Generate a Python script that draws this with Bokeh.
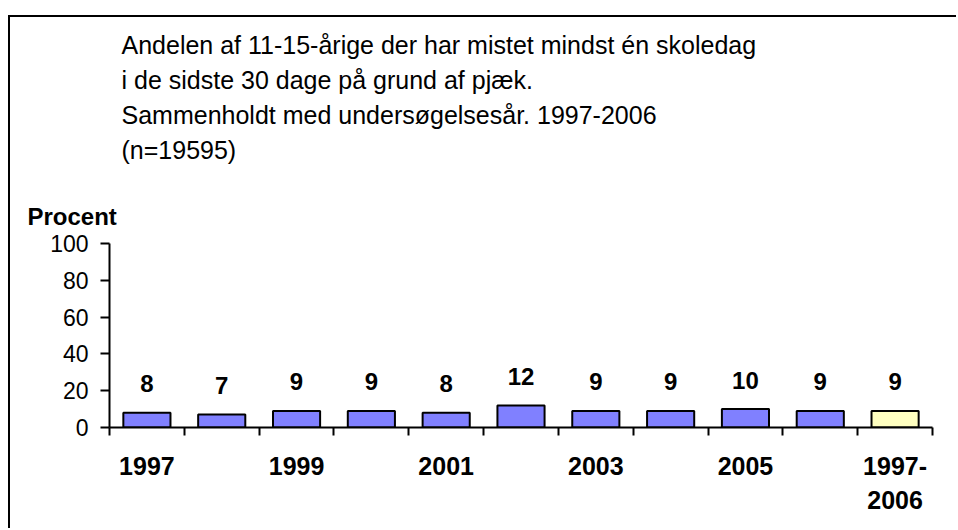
from bokeh.plotting import figure
from bokeh.models import Range1d, FixedTicker, Title, ColumnDataSource
from bokeh.core.properties import value
from bokeh.embed import file_html
from bokeh.resources import INLINE

categories = ["1997", "1998", "1999", "2000", "2001", "2002", "2003", "2004", "2005", "2006", "1997-\n2006"]
values = [8, 7, 9, 9, 8, 12, 9, 9, 10, 9, 9]
colors = ["#8080FF"] * 10 + ["#FFFFC0"]
shown_labels = {0: "1997", 2: "1999", 4: "2001", 6: "2003", 8: "2005", 10: "1997-\n2006"}
y_ticks = [0, 20, 40, 60, 80, 100]
title_lines = [
    "Andelen af 11-15-årige der har mistet mindst én skoledag",
    "i de sidste 30 dage på grund af pjæk.",
    "Sammenholdt med undersøgelsesår. 1997-2006",
    "(n=19595)",
]
y_title = "Procent"

FONT = "Liberation Sans"
W, H = 948, 513
ML, MR, MT, MB = 99, 26, 226, 103
NX = len(categories)

p = figure(width=W, height=H, output_backend="svg", toolbar_location=None,
           x_range=Range1d(0, NX), y_range=Range1d(0, 100),
           min_border_left=ML, min_border_right=MR, min_border_top=MT, min_border_bottom=MB)
p.styles = {"transform": "translate(8px, 15px)",
            "border-left": "2px solid black", "border-top": "2px solid black"}
p.outline_line_color = None
p.xgrid.grid_line_color = None
p.ygrid.grid_line_color = None

xs = [i + 0.5 for i in range(NX)]
src = ColumnDataSource(dict(x=xs, top=values, color=colors, lab=[str(v) for v in values]))
p.vbar(x="x", top="top", bottom=0, width=0.63, fill_color="color", line_color="black",
       line_width=2, source=src)
p.text(x="x", y="top", text="lab", source=src, text_align="center", text_baseline="alphabetic",
       y_offset=-29, text_font=value(FONT), text_font_size=value("24px"), text_font_style="bold",
       text_color="black")

# x axis
xa = p.xaxis[0]
xa.ticker = FixedTicker(ticks=[i + 0.5 for i in shown_labels], minor_ticks=list(range(NX + 1)))
xa.major_label_overrides = {i + 0.5: t for i, t in shown_labels.items()}
xa.major_tick_line_color = None
xa.major_tick_out = 0
xa.major_tick_in = 0
xa.minor_tick_out = 8
xa.minor_tick_in = 0
xa.minor_tick_line_width = 2
xa.minor_tick_line_color = "black"
xa.axis_line_width = 2
xa.axis_line_color = "black"
xa.major_label_standoff = 16
xa.major_label_text_font = FONT
xa.major_label_text_font_size = "25px"
xa.major_label_text_font_style = "bold"
xa.major_label_text_color = "black"
xa.major_label_text_line_height = 1.22

# y axis
ya = p.yaxis[0]
ya.ticker = FixedTicker(ticks=y_ticks, minor_ticks=[])
ya.major_tick_out = 9
ya.major_tick_in = 0
ya.major_tick_line_width = 2
ya.major_tick_line_color = "black"
ya.axis_line_width = 2
ya.axis_line_color = "black"
ya.major_label_standoff = 12
ya.major_label_text_font = FONT
ya.major_label_text_font_size = "23px"
ya.major_label_text_color = "black"

# titles stacked above the frame (first added = closest to frame)
p.add_layout(Title(text=y_title, align="left", offset=-82, standoff=27.2,
                   text_font=FONT, text_font_size="24px", text_font_style="bold",
                   text_color="black"), "above")
p.add_layout(Title(text=" ", align="left", standoff=0.8,
                   text_font=FONT, text_font_size="10px", text_color="black"), "above")
p.add_layout(Title(text="\n".join(title_lines), align="left", offset=12, standoff=19,
                   text_font=FONT, text_font_size="25px", text_font_style="normal",
                   text_line_height=1.245, text_color="black"), "above")

open("out.html", "w").write(file_html(p, INLINE))
